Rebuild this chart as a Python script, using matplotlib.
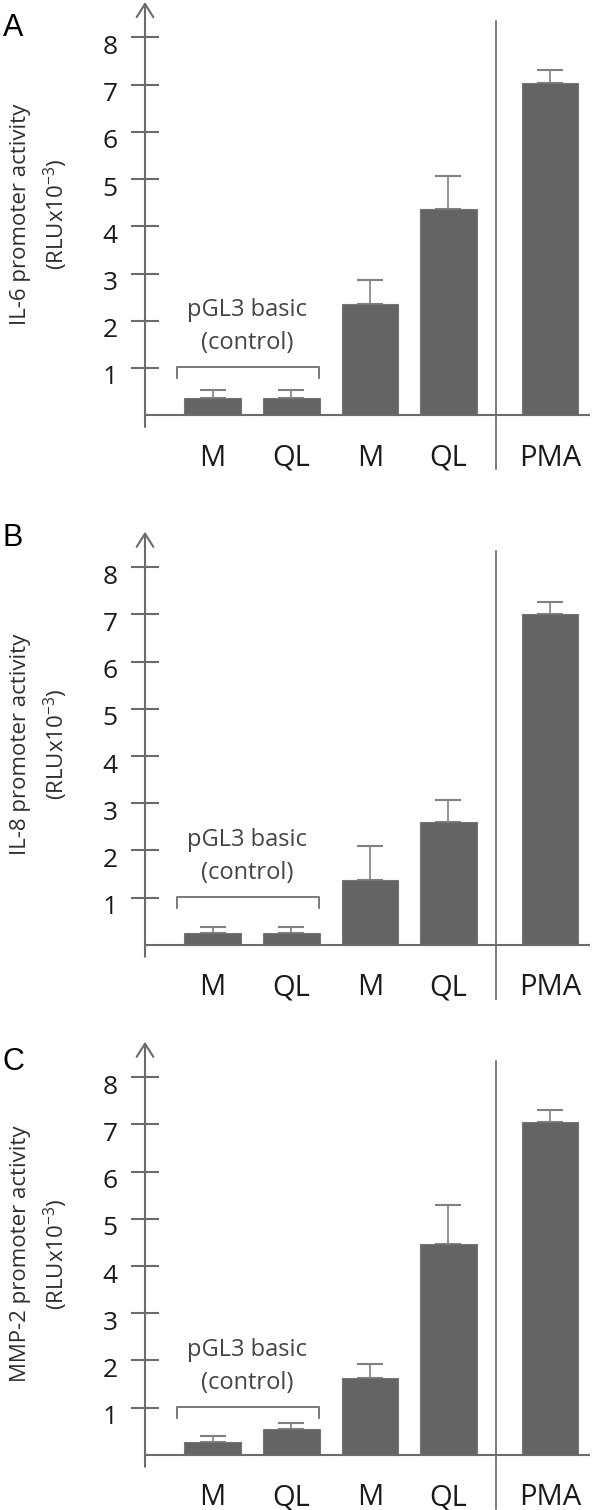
import matplotlib
matplotlib.use("Agg")
import matplotlib.pyplot as plt
from matplotlib.transforms import ScaledTranslation

plt.rcParams['font.family'] = ['Open Sans', 'DejaVu Sans']
plt.rcParams['mathtext.fontset'] = 'custom'
plt.rcParams['mathtext.rm'] = 'Open Sans'
plt.rcParams['mathtext.it'] = 'Open Sans:italic'

# values (RLU x 10^-3), error bars are one-sided (upper)
groups = ['M', 'QL', 'M', 'QL', 'PMA']
il6_mean = [0.37, 0.37, 2.35, 4.36, 7.04]
il6_err = [0.16, 0.16, 0.51, 0.71, 0.26]
il8_mean = [0.26, 0.26, 1.37, 2.60, 7.01]
il8_err = [0.12, 0.12, 0.72, 0.47, 0.26]
mmp2_mean = [0.27, 0.54, 1.63, 4.47, 7.04]
mmp2_err = [0.12, 0.13, 0.29, 0.83, 0.26]
yticks = [1, 2, 3, 4, 5, 6, 7, 8]

panels = [
    ('A', 'IL-6 promoter activity', il6_mean, il6_err),
    ('B', 'IL-8 promoter activity', il8_mean, il8_err),
    ('C', 'MMP-2 promoter activity', mmp2_mean, mmp2_err),
]

# layout
xpos = [0, 1, 2, 3, 4.29]
sep_x = 3.61
W, H = 600, 1510
axes_bottom_px = [427, 956.7, 1466.7]
letter_y_px = [28, 538, 1062]

axis_col = '#6b6b6b'
bar_col = '#646464'
err_col = '#808080'
text_col = '#1a1a1a'

fig = plt.figure(figsize=(W / 100, H / 100), dpi=100)

for (letter, label, mean, err), yb, ly in zip(panels, axes_bottom_px, letter_y_px):
    ax = fig.add_axes([145 / W, 1 - yb / H, 445 / W, 425 / H])
    ax.set_xlim(-0.86, 4.80)
    ax.set_ylim(-0.25, 8.75)
    for s in ax.spines.values():
        s.set_visible(False)

    ax.bar(xpos, mean, width=0.72, color=bar_col, edgecolor='#767676',
           linewidth=0.8, zorder=3)
    ax.errorbar(xpos, mean, yerr=[[0] * len(err), err], fmt='none',
                ecolor=err_col, elinewidth=1.2, capsize=9.5, capthick=1.5,
                zorder=2)

    # x axis and arrowed y axis
    ax.axhline(0, color=axis_col, lw=1.5, zorder=4)
    ax.annotate('', xy=(0, 1), xytext=(0, 0), xycoords='axes fraction',
                textcoords='axes fraction',
                arrowprops=dict(arrowstyle='->, head_length=0.95, head_width=0.6',
                                color=axis_col, lw=1.5, mutation_scale=10,
                                shrinkA=0, shrinkB=0))

    # separator between constructs and PMA
    ax.plot([sep_x, sep_x], [-1.15, 8.35], color='#555555', lw=1.1,
            clip_on=False)

    ax.set_yticks(yticks)
    ax.set_yticklabels([str(t) for t in yticks])
    ax.tick_params(axis='y', direction='inout', length=19.5, width=1.5,
                   color=axis_col, pad=10, labelsize=19, labelcolor=text_col)
    for t in ax.get_yticklabels():
        t.set_transform(t.get_transform() +
                        ScaledTranslation(0, -0.07, fig.dpi_scale_trans))

    ax.set_xticks(xpos)
    ax.set_xticklabels(groups)
    ax.tick_params(axis='x', length=0, pad=12, labelsize=21,
                   labelcolor=text_col)

    # control bracket and its label
    ax.plot([-0.45, -0.45, 1.35, 1.35], [0.79, 1.02, 1.02, 0.79],
            color='#707070', lw=1.3, clip_on=False)
    ax.text(0.44, 2.23, 'pGL3 basic', ha='center', va='center',
            fontsize=17, color='#444444')
    ax.text(0.44, 1.53, '(control)', ha='center', va='center',
            fontsize=17, color='#444444')

    ax.text(-0.279, 0.5, label, transform=ax.transAxes, rotation=90,
            ha='center', va='center', fontsize=16, color='#2e2e2e')
    ax.text(-0.20, 0.5, '(RLUx10$^{-3}$)', transform=ax.transAxes,
            rotation=90, ha='center', va='center', fontsize=16,
            color='#2e2e2e')

    fig.text(13 / W, 1 - ly / H, letter, ha='center', va='center',
             fontsize=22, family='Liberation Sans', color='black')

fig.savefig('out.png', dpi=100)
